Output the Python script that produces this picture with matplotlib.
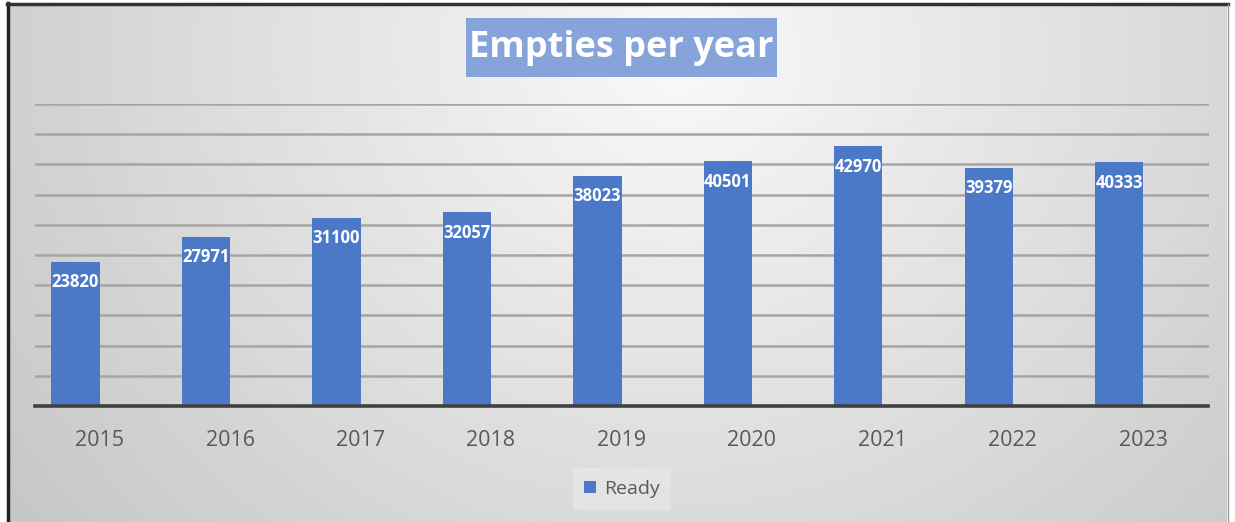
import numpy as np
import matplotlib
matplotlib.use('Agg')
import matplotlib.pyplot as plt
from matplotlib.lines import Line2D
from matplotlib.patches import Patch, Rectangle

years = ['2015', '2016', '2017', '2018', '2019', '2020', '2021', '2022', '2023']
ready = [23820, 27971, 31100, 32057, 38023, 40501, 42970, 39379, 40333]
series_name = 'Ready'
title = 'Empties per year'

plt.rcParams['font.family'] = ['Open Sans', 'DejaVu Sans']

W, H = 1235, 522
fig = plt.figure(figsize=(W / 100, H / 100), dpi=100)
fig.patch.set_facecolor('white')

# gradient background of chart area
bg = fig.add_axes([9 / W, 0, (1227 - 9) / W, (H - 5) / H], zorder=0)
yy, xx = np.mgrid[0:1:300j, 0:1:700j]
d = np.sqrt(((xx - 0.55) / 0.62) ** 2 + ((yy - 0.1) / 1.35) ** 2)
val = 0.975 - 0.18 * np.clip(d, 0, 1.2)
bg.imshow(val, cmap='gray', vmin=0, vmax=1, aspect='auto', interpolation='bilinear')
bg.axis('off')

# borders
fig.add_artist(Line2D([8 / W, 8 / W], [0, 1 - 3 / H], transform=fig.transFigure, color='#222222', lw=2.5))
fig.add_artist(Line2D([7 / W, 1228 / W], [1 - 4 / H, 1 - 4 / H], transform=fig.transFigure, color='#333333', lw=2.5))
fig.add_artist(Line2D([1228 / W, 1228 / W], [0, 1 - 4 / H], transform=fig.transFigure, color='#999999', lw=1))

ax = fig.add_axes([34.5 / W, 1 - 406 / H, 1174 / W, 302 / H], zorder=2)
ax.patch.set_alpha(0)
x = np.arange(len(years))
bar_color = '#4b79c7'
bw = 0.37
ax.bar(x - bw / 2, ready, width=bw, color=bar_color, zorder=3)
for xi, v in zip(x, ready):
    ax.annotate(str(v), (xi - bw / 2, v), xytext=(0, -14.5), textcoords='offset points',
                ha='center', va='center', color='white', fontweight='bold', fontsize=12, zorder=4)

ax.set_xlim(-0.5, 8.5)
ax.set_ylim(0, 50000)
ax.set_yticks(np.arange(0, 50001, 5000))
ax.set_yticklabels([])
ax.grid(axis='y', color='#a5a5a5', lw=1.8, zorder=1)
ax.set_axisbelow(True)
ax.set_xticks(x, years)
ax.tick_params(axis='both', length=0)
ax.tick_params(axis='x', labelsize=15.5, labelcolor='#595959', pad=17)
for s in ['left', 'right', 'top']:
    ax.spines[s].set_visible(False)
ax.spines['bottom'].set_color('#404040')
ax.spines['bottom'].set_linewidth(2.6)
ax.spines['bottom'].set_zorder(5)

# title box
fig.add_artist(Rectangle((466 / W, 1 - 77 / H), 311 / W, 59 / H, transform=fig.transFigure,
                         facecolor='#86a4da', edgecolor='none', zorder=3))
fig.text(621.5 / W, 1 - 48 / H, title, ha='center', va='center', color='white',
         fontweight='bold', fontsize=26, zorder=4)

leg = fig.legend(handles=[Patch(facecolor=bar_color)], labels=[series_name], loc='center',
                 bbox_to_anchor=(622 / W, 1 - 489 / H), frameon=True, facecolor='#e6e6e6',
                 edgecolor='none', fontsize=14, handlelength=0.6, handleheight=0.6,
                 handletextpad=0.4, borderpad=0.6, fancybox=False)
for t in leg.get_texts():
    t.set_color('#595959')

fig.savefig('out.png', dpi=100)
